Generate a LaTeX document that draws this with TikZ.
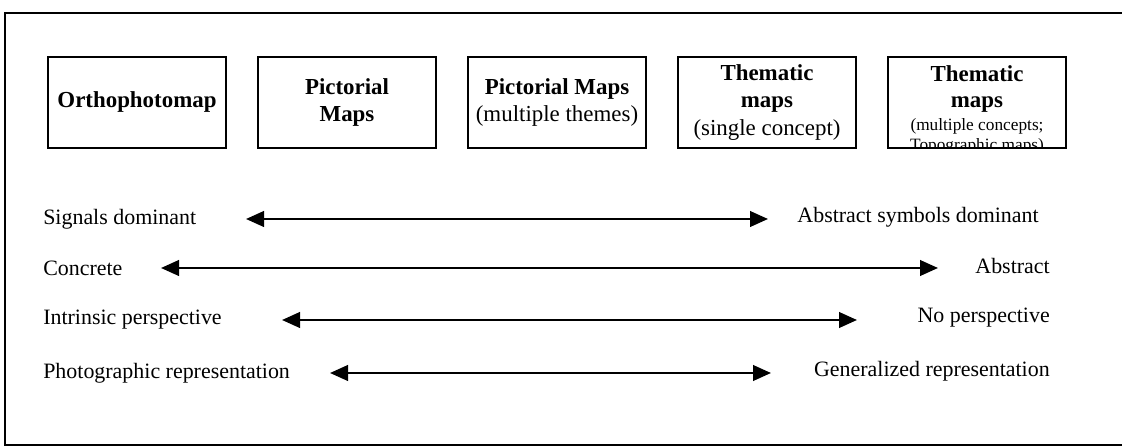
\documentclass[tikz,border=0pt]{standalone}
\usepackage{fontspec}
\setmainfont{Liberation Serif}
\usepackage{tikz}
\usetikzlibrary{arrows.meta, positioning}
\newcommand{\smallnote}{\mdseries\fontsize{12.3}{14}\selectfont}
\tikzset{
  mapbox/.style={draw, line width=1.5pt, minimum width=4.45cm, minimum height=2.275cm,
    inner sep=0pt, outer sep=0pt, align=center, font=\fontsize{16.3}{19.5}\selectfont\bfseries},
  lbl/.style={inner sep=0pt, font=\fontsize{15.6}{18}\selectfont},
  dbl/.style={line width=1.6pt, {Triangle[length=4.5mm,width=3.9mm]}-{Triangle[length=4.5mm,width=3.9mm]}}
}
\begin{document}
\begin{tikzpicture}
  \useasboundingbox (0,0) rectangle (28.05,11.2);
  \draw[line width=1.5pt] (28.05,10.875) -- (0.125,10.875) -- (0.125,0.075) -- (28.05,0.075);

  \node[mapbox] (ortho) at (3.425,8.64) {Orthophotomap};
  \node[mapbox, right=0.8cm of ortho] (pict) {Pictorial\\Maps};
  \node[mapbox, right=0.8cm of pict] (pictmulti) {Pictorial Maps\\\mdseries(multiple themes)};
  \node[mapbox, right=0.8cm of pictmulti] (themsingle) {Thematic\\maps\\\mdseries(single concept)};
  \node[mapbox, right=0.8cm of themsingle] (themmulti) {};
  \begin{scope}
    \clip (themmulti.south west) rectangle (themmulti.north east);
    \node[below=0.2cm of themmulti.north, inner sep=0pt, align=center,
      font=\fontsize{16.3}{18.5}\selectfont\bfseries] (themmultitxt)
      {Thematic\\maps\\[-2pt]\smallnote(multiple concepts;\\[-4pt]\smallnote Topographic maps)};
  \end{scope}

  \foreach \i/\y/\xa/\xb/\ltext/\rx/\ra/\rtext in {
      1/5.725/6.15/19.2/Signals dominant/19.93/west/Abstract symbols dominant,
      2/4.5/4.025/23.45/Concrete/26.25/east/Abstract,
      3/3.2/7.05/21.425/Intrinsic perspective/26.25/east/No perspective,
      4/1.875/8.25/19.275/Photographic representation/26.25/east/Generalized representation} {
    \node[lbl, anchor=west] (left\i) at (1.075,\y) {\ltext};
    \node[lbl, anchor=\ra] (right\i) at (\rx,\y+0.05) {\rtext};
    \coordinate (from\i) at (\xa,\y);
    \coordinate (to\i) at (\xb,\y);
    \draw[dbl] (from\i) -- (to\i);
  }
\end{tikzpicture}
\end{document}
